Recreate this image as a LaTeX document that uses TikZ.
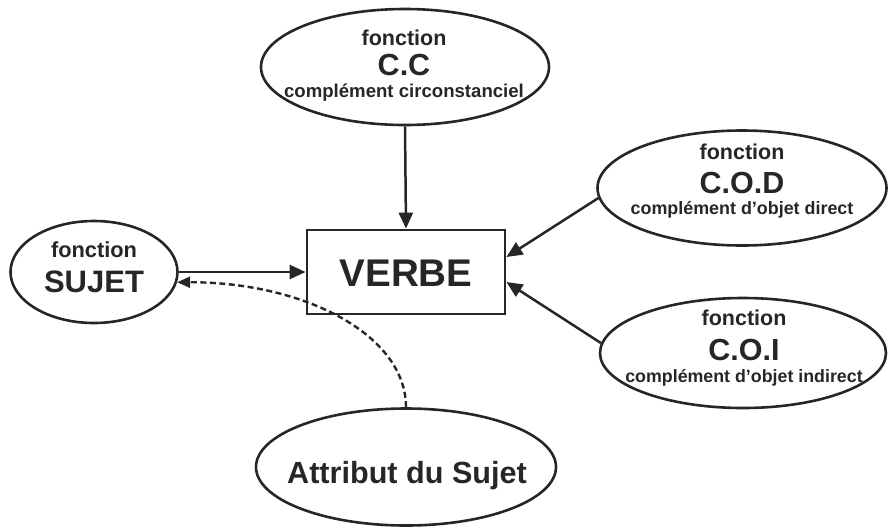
\documentclass[tikz,border=0pt]{standalone}
\usepackage{fontspec}
\setmainfont{Liberation Sans}
\usetikzlibrary{arrows.meta,shapes.geometric}
\definecolor{ink}{rgb}{0.15,0.15,0.15}
\tikzset{
  ell/.style={draw=ink, line width=2.6pt, ellipse, inner sep=0pt},
  verbebox/.style={draw=ink, line width=2.8pt, rectangle, inner sep=0pt},
  txt/.style={anchor=base, inner sep=0pt, text=ink, font=\bfseries},
  conn/.style={draw=ink, line width=2.5pt, -{Triangle[length=16pt,width=14pt]}},
  dconn/.style={draw=ink, line width=2.4pt, dash pattern=on 6pt off 3.5pt, -{Triangle[length=13pt,width=11pt]}},
}
\begin{document}
\begin{tikzpicture}[x=1pt,y=-1pt]
\useasboundingbox (0,0) rectangle (888,528);
% shapes
\node[ell, minimum width=288pt, minimum height=116pt] (cc) at (405,67) {};
\node[ell, minimum width=289pt, minimum height=115pt] (cod) at (742,188) {};
\node[ell, minimum width=286pt, minimum height=110pt] (coi) at (743,353) {};
\node[ell, minimum width=167pt, minimum height=102pt] (suj) at (94,272) {};
\node[ell, minimum width=300pt, minimum height=117pt] (attr) at (406,467) {};
\node[verbebox, minimum width=198pt, minimum height=84pt] (verbe) at (406,272) {};
% texts
\node[txt, font=\bfseries\fontsize{21.5}{24}\selectfont] (cc1) at (404,45) {fonction};
\node[txt, font=\bfseries\fontsize{30.5}{34}\selectfont] (cc2) at (404,75) {C.C};
\node[txt, font=\bfseries\fontsize{18.6}{21}\selectfont] (cc3) at (404,97) {complément circonstanciel};
\node[txt, font=\bfseries\fontsize{21.5}{24}\selectfont] (cod1) at (742,159) {fonction};
\node[txt, font=\bfseries\fontsize{30.5}{34}\selectfont] (cod2) at (742,193) {C.O.D};
\node[txt, font=\bfseries\fontsize{17.9}{21}\selectfont] (cod3) at (742,214) {complément d’objet direct};
\node[txt, font=\bfseries\fontsize{21.5}{24}\selectfont] (coi1) at (744,325) {fonction};
\node[txt, font=\bfseries\fontsize{30.5}{34}\selectfont] (coi2) at (744,360) {C.O.I};
\node[txt, font=\bfseries\fontsize{17.8}{21}\selectfont] (coi3) at (744,382) {complément d’objet indirect};
\node[txt, font=\bfseries\fontsize{21.8}{24}\selectfont] (suj1) at (94,257) {fonction};
\node[txt, font=\bfseries\fontsize{31}{34}\selectfont] (suj2) at (94,292) {SUJET};
\node[txt, font=\bfseries\fontsize{38.6}{42}\selectfont] (verbe1) at (406,286) {VERBE};
\node[txt, font=\bfseries\fontsize{30.6}{34}\selectfont] (attr1) at (407,483) {Attribut du Sujet};
% connectors
\draw[conn] (cc.south) -- (verbe.north);
\draw[conn] (suj.east) -- (verbe.west);
\draw[conn] (cod.184) -- ([yshift=15pt]verbe.east);
\draw[conn] (coi.176) -- ([yshift=-10pt]verbe.east);
\draw[dconn] (attr.north) .. controls +(0,-72) and +(128,0) .. (suj.-7);
\end{tikzpicture}
\end{document}
